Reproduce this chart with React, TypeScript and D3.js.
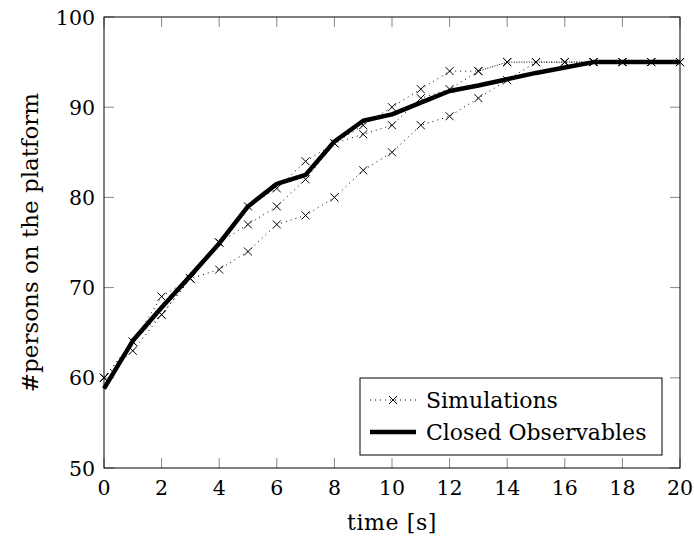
import React from "react";
import * as d3 from "d3";

const times = [0,1,2,3,4,5,6,7,8,9,10,11,12,13,14,15,16,17,18,19,20];
const simA = [60,64,69,71,75,79,81,84,86,88,90,92,94,94,95,95,95,95,95,95,95];
const simB = [60,63,67,71,75,77,79,82,86,87,88,91,92,94,95,95,95,95,95,95,95];
const simC = [60,64,67,71,72,74,77,78,80,83,85,88,89,91,93,95,95,95,95,95,95];
const closedObs = [58.8,64.1,67.8,71.3,74.9,79.0,81.5,82.5,86.2,88.5,89.2,90.5,91.8,92.4,93.1,93.8,94.4,95,95,95,95];
const xTicks = [0,2,4,6,8,10,12,14,16,18,20];
const yTicks = [50,60,70,80,90,100];
const legendLabels = ["Simulations", "Closed Observables"];
const xLabel = "time [s]";
const yLabel = "#persons on the platform";

const W = 694, H = 546;
const L = 104, R = 680, T = 17, B = 468;
const FONT = "DejaVu Serif";

export default function App() {
  const x = d3.scaleLinear().domain([0, 20]).range([L, R]);
  const y = d3.scaleLinear().domain([50, 100]).range([B, T]);
  const line = d3.line<number>().x((_, i) => x(times[i])).y((d) => y(d));
  const sims = [simA, simB, simC];
  const tickLen = 10;
  const cross = (cx: number, cy: number, k: string) => (
    <path key={k} d={`M${cx-4},${cy-4}L${cx+4},${cy+4}M${cx-4},${cy+4}L${cx+4},${cy-4}`} stroke="#000" strokeWidth={1} fill="none" />
  );
  return (
    <svg width={W} height={H} style={{ position: "absolute", left: 0, top: 0 }} fontFamily={FONT}>
      <rect x={0} y={0} width={W} height={H} fill="#fff" />
      {xTicks.map((t) => (
        <g key={"xt" + t} stroke="#888" strokeWidth={1}>
          <line x1={x(t)} x2={x(t)} y1={B} y2={B - tickLen} />
          <line x1={x(t)} x2={x(t)} y1={T} y2={T + tickLen} />
        </g>
      ))}
      {yTicks.map((t) => (
        <g key={"yt" + t} stroke="#888" strokeWidth={1}>
          <line x1={L} x2={L + tickLen} y1={y(t)} y2={y(t)} />
          <line x1={R} x2={R - tickLen} y1={y(t)} y2={y(t)} />
        </g>
      ))}
      {sims.map((s, si) => (
        <g key={"s" + si}>
          <path d={line(s) || ""} fill="none" stroke="#000" strokeWidth={1} strokeDasharray="1 4" />
          {s.map((v, i) => cross(x(times[i]), y(v), `c${si}-${i}`))}
        </g>
      ))}
      <path d={line(closedObs) || ""} fill="none" stroke="#000" strokeWidth={4.5} strokeLinejoin="round" />
      <rect x={L} y={T} width={R - L} height={B - T} fill="none" stroke="#000" strokeWidth={1} />
      {xTicks.map((t) => (
        <text key={"xl" + t} x={x(t)} y={495} textAnchor="middle" fontSize={20.5} fill="#000">{t}</text>
      ))}
      {yTicks.map((t) => (
        <text key={"yl" + t} x={L - 9} y={y(t) + 7.5} textAnchor="end" fontSize={20.5} fill="#000">{t}</text>
      ))}
      <text x={(L + R) / 2} y={530} textAnchor="middle" fontSize={22} letterSpacing={0.6} fill="#000">{xLabel}</text>
      <text transform={`translate(38,${(T + B) / 2}) rotate(-90)`} textAnchor="middle" fontSize={23} fill="#000">{yLabel}</text>
      <rect x={360} y={378} width={302} height={77} fill="#fff" stroke="#000" strokeWidth={1} />
      <line x1={370} x2={416} y1={400} y2={400} stroke="#000" strokeWidth={1} strokeDasharray="1 4" />
      {cross(393, 400, "lc")}
      <text x={426} y={408} fontSize={22} fill="#000">{legendLabels[0]}</text>
      <line x1={370} x2={416} y1={432} y2={432} stroke="#000" strokeWidth={4.5} />
      <text x={426} y={440} fontSize={22} fill="#000">{legendLabels[1]}</text>
    </svg>
  );
}
